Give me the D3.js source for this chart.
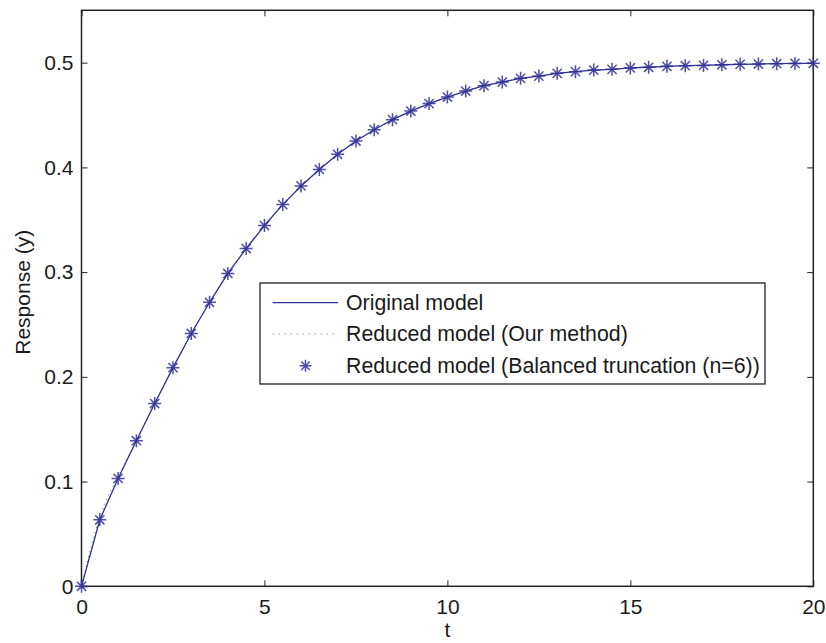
<!DOCTYPE html>
<html>
<head>
<meta charset="utf-8">
<script src="https://cdn.jsdelivr.net/npm/d3@7"></script>
<style>
  html, body { margin: 0; padding: 0; background: #fff; }
  svg { display: block; font-family: "Liberation Sans", Arial, Helvetica, sans-serif; }
</style>
</head>
<body>
<svg id="chart" width="826" height="643"></svg>
<script>
// ---- Data ----
const tValues = [0,0.5,1,1.5,2,2.5,3,3.5,4,4.5,5,5.5,6,6.5,7,7.5,8,8.5,9,9.5,10,10.5,11,11.5,12,12.5,13,13.5,14,14.5,15,15.5,16,16.5,17,17.5,18,18.5,19,19.5,20];
const originalModel = [0,0.0635,0.1030,0.1390,0.1745,0.2088,0.2414,0.2712,0.2987,0.3225,0.3445,0.3645,0.3823,0.3980,0.4125,0.4252,0.4360,0.4456,0.4538,0.4609,0.4672,0.4729,0.4780,0.4815,0.4850,0.4872,0.4898,0.4914,0.4929,0.4936,0.4950,0.4956,0.4965,0.4971,0.4974,0.4980,0.4984,0.4987,0.4990,0.4993,0.4994];
const reducedOurT = [0,0.25,0.5,0.75,1,1.5,2,2.5,3,3.5,4,4.5,5,5.5,6,6.5,7,7.5,8,8.5,9,9.5,10,10.5,11,11.5,12,12.5,13,13.5,14,14.5,15,15.5,16,16.5,17,17.5,18,18.5,19,19.5,20];
const reducedOur = [0,0.037,0.067,0.088,0.1045,0.1395,0.1748,0.2090,0.2415,0.2713,0.2988,0.3226,0.3446,0.3646,0.3824,0.3981,0.4126,0.4253,0.4361,0.4457,0.4539,0.4610,0.4673,0.4730,0.4781,0.4816,0.4851,0.4873,0.4899,0.4915,0.4930,0.4937,0.4951,0.4957,0.4966,0.4972,0.4975,0.4981,0.4985,0.4988,0.4991,0.4993,0.4995];
const balancedT = tValues;
const balanced = originalModel;
const xTicks = [0,5,10,15,20];
const yTicks = [0,0.1,0.2,0.3,0.4,0.5];
const legendLabels = ["Original model","Reduced model (Our method)","Reduced model (Balanced truncation (n=6))"];
const axisLabels = {x: "t", y: "Response (y)"};

// ---- Layout ----
const svg = d3.select("#chart");
const pL = 81.5, pR = 813.3, pT = 10.3, pB = 586.3;
const x = d3.scaleLinear().domain([0,20]).range([pL,pR]);
const y = d3.scaleLinear().domain([0,0.55]).range([pB,pT]);

const blue = "#2f2f96";
const green = "#2e8b2e";
const axisColor = "#222";
const FS = "21px";

// Frame
svg.append("rect").attr("x",pL).attr("y",pT).attr("width",pR-pL).attr("height",pB-pT)
  .attr("fill","none").attr("stroke",axisColor).attr("stroke-width",1.5);

// Axes (inward ticks)
const xAxisB = d3.axisBottom(x).tickValues(xTicks).tickSizeInner(-6).tickSizeOuter(0).tickPadding(13).tickFormat(d3.format("d"));
const xAxisT = d3.axisTop(x).tickValues(xTicks).tickSizeInner(-6).tickSizeOuter(0).tickFormat("");
const yAxisL = d3.axisLeft(y).tickValues(yTicks).tickSizeInner(-6).tickSizeOuter(0).tickPadding(8).tickFormat(d => d===0 ? "0" : d3.format(".1f")(d));
const yAxisR = d3.axisRight(y).tickValues(yTicks).tickSizeInner(-6).tickSizeOuter(0).tickFormat("");

function styleAxis(g){
  g.select(".domain").remove();
  g.selectAll(".tick line").attr("stroke",axisColor).attr("stroke-width",1);
  g.selectAll(".tick text").attr("fill","#1a1a1a").style("font-size",FS);
}
svg.append("g").attr("transform",`translate(0,${pB})`).call(xAxisB).call(styleAxis);
svg.append("g").attr("transform",`translate(0,${pT})`).call(xAxisT).call(styleAxis);
svg.append("g").attr("transform",`translate(${pL},0)`).call(yAxisL).call(styleAxis);
svg.append("g").attr("transform",`translate(${pR},0)`).call(yAxisR).call(styleAxis);

// Axis labels
svg.append("text").attr("x",(pL+pR)/2).attr("y",637).attr("text-anchor","middle")
  .style("font-size",FS).attr("fill","#1a1a1a").text(axisLabels.x);
svg.append("text").attr("transform",`translate(30,${(pT+pB)/2 - 6}) rotate(-90)`).attr("text-anchor","middle")
  .style("font-size",FS).attr("fill","#1a1a1a").text(axisLabels.y);

// Series
const plot = svg.append("g");
const line = d3.line().x(d=>x(d[0])).y(d=>y(d[1]));
const origData = tValues.map((t,i)=>[t,originalModel[i]]);
const ourData = reducedOurT.map((t,i)=>[t,reducedOur[i]]);
const balData = balancedT.map((t,i)=>[t,balanced[i]]);

plot.append("path").datum(ourData).attr("d",line).attr("fill","none")
  .attr("stroke",green).attr("stroke-width",1).attr("stroke-dasharray","1,4");
plot.append("path").datum(origData).attr("d",line).attr("fill","none")
  .attr("stroke",blue).attr("stroke-width",1.3);

function asterisk(g, cx, cy, r){
  const d = r*0.7071;
  const p = `M${cx-r},${cy}L${cx+r},${cy}M${cx},${cy-r}L${cx},${cy+r}M${cx-d},${cy-d}L${cx+d},${cy+d}M${cx-d},${cy+d}L${cx+d},${cy-d}`;
  g.append("path").attr("d",p).attr("stroke",blue).attr("stroke-width",1.5).attr("stroke-opacity",0.85).attr("fill","none");
}
const markers = plot.append("g");
balData.forEach(d => asterisk(markers, x(d[0]), y(d[1]), 6.5));

// Legend
const lg = svg.append("g");
const lx = 260, ly = 283, lw = 505, lh = 101;
lg.append("rect").attr("x",lx).attr("y",ly).attr("width",lw).attr("height",lh)
  .attr("fill","#fff").attr("stroke",axisColor).attr("stroke-width",1.3);
const rows = [302.7, 334, 365.7];
lg.append("line").attr("x1",272.7).attr("x2",338).attr("y1",rows[0]).attr("y2",rows[0])
  .attr("stroke",blue).attr("stroke-width",1.3);
lg.append("line").attr("x1",272.7).attr("x2",338).attr("y1",rows[1]).attr("y2",rows[1])
  .attr("stroke",green).attr("stroke-width",1).attr("stroke-dasharray","1,5");
asterisk(lg, 305.5, rows[2], 6);
legendLabels.forEach((s,i)=>{
  lg.append("text").attr("x",346).attr("y",rows[i]).attr("dy","0.35em")
    .style("font-size","21.3px").attr("fill","#1a1a1a").text(s);
});
</script>
</body>
</html>
